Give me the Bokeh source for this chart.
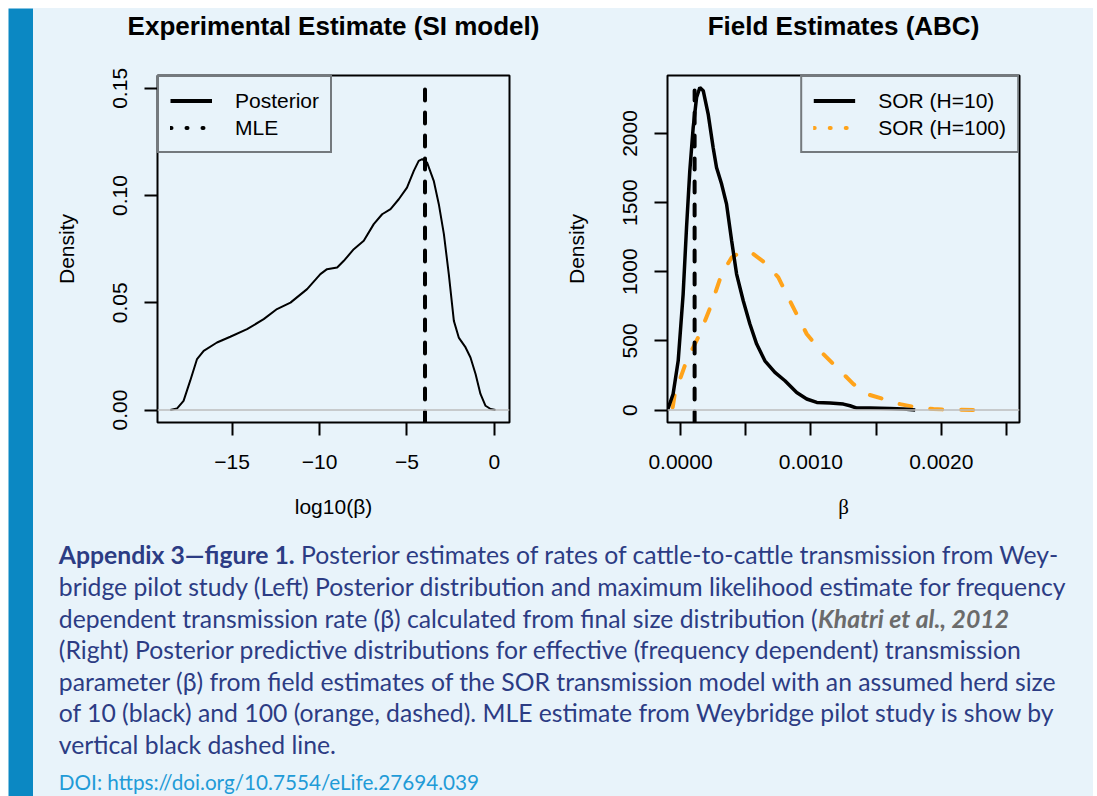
import glob
from bokeh.plotting import figure
from bokeh.models import Range1d, FixedTicker, Legend, LegendItem, Span, Title, Spacer
from bokeh.layouts import row, column
from bokeh.embed import file_html
from bokeh.resources import INLINE
from bokeh.core.properties import value

# ---------------- data ----------------
post_x = [-18.53, -18.15, -17.77, -17.39, -17.0, -16.62, -15.86, -15.1, -14.14, -13.19,
          -12.43, -11.66, -10.71, -9.95, -9.57, -8.99, -8.61, -8.04, -7.47, -6.9,
          -6.42, -5.94, -5.47, -5.0, -4.61, -4.33, -4.13, -3.85, -3.47, -3.18,
          -2.89, -2.61, -2.32, -2.04, -1.65, -1.37, -1.08, -0.8, -0.51, -0.22, 0.06]
post_y = [0.0, 0.0007, 0.0043, 0.0137, 0.0238, 0.0276, 0.0315, 0.0342, 0.0377, 0.0424,
          0.0471, 0.0501, 0.0564, 0.0634, 0.0657, 0.0665, 0.0696, 0.075, 0.0789, 0.0867,
          0.0913, 0.0937, 0.0983, 0.1037, 0.1115, 0.1162, 0.117, 0.1154, 0.1069, 0.096,
          0.082, 0.0634, 0.0416, 0.0338, 0.0292, 0.0245, 0.0168, 0.0075, 0.002, 0.0005, 0.0]

h10_x = [-0.0001, -0.000057, -0.000018, 0.00002, 0.000046, 0.000071, 0.000097, 0.000123,
         0.000148, 0.000174, 0.000212, 0.00025, 0.000276, 0.000315, 0.000353, 0.000392,
         0.00043, 0.000481, 0.000532, 0.000584, 0.000647, 0.000724, 0.000801, 0.000891,
         0.000968, 0.001045, 0.001147, 0.001249, 0.0013, 0.001352, 0.001454, 0.001607,
         0.00171, 0.0018]
h10_y = [0, 116, 356, 839, 1320, 1730, 2043, 2260, 2332, 2309, 2140, 1899, 1754, 1634,
         1489, 1224, 983, 790, 622, 477, 356, 272, 212, 127, 80, 55, 51, 43, 31, 14, 14,
         12, 8, 0]

h100_x = [-0.00006, -0.000044, 0.000046, 0.000148, 0.000238, 0.000315, 0.000392, 0.000481,
          0.000558, 0.00066, 0.00075, 0.000839, 0.000968, 0.001095, 0.001224, 0.001326,
          0.001428, 0.001556, 0.001684, 0.001812, 0.00194, 0.002068, 0.002247]
h100_y = [20, 116, 356, 550, 766, 983, 1103, 1152, 1128, 1056, 959, 790, 550, 405, 284,
          188, 116, 80, 43, 19, 7, 3, 0]

mle_log10 = -3.97
mle_beta = 0.000108
mle_top_left = 0.15
mle_top_right = 2310

left_xticks = [-15, -10, -5, 0]
left_xlabels = ["\u221215", "\u221210", "\u22125", "0"]
left_yticks = [0, 0.05, 0.1, 0.15]
left_ylabels = ["0.00", "0.05", "0.10", "0.15"]
right_xticks = [0, 0.0005, 0.001, 0.0015, 0.002, 0.0025]
right_xlabels = ["0.0000", "", "0.0010", "", "0.0020", ""]
right_yticks = [0, 500, 1000, 1500, 2000]
right_ylabels = ["0", "500", "1000", "1500", "2000"]

caption_lines = [
    [("Appendix 3\u2014figure 1.", "bold"), (" Posterior estimates of rates of cattle-to-cattle transmission from Wey-", "reg")],
    [("bridge pilot study (Left) Posterior distribution and maximum likelihood estimate for frequency", "reg")],
    [("dependent transmission rate (\u03b2) calculated from final size distribution (", "reg"), ("Khatri et al., 2012", "cite")],
    [("(Right) Posterior predictive distributions for effective (frequency dependent) transmission", "reg")],
    [("parameter (\u03b2) from field estimates of the SOR transmission model with an assumed herd size", "reg")],
    [("of 10 (black) and 100 (orange, dashed). MLE estimate from Weybridge pilot study is show by", "reg")],
    [("vertical black dashed line.", "reg")],
]
doi_text = "DOI: https://doi.org/10.7554/eLife.27694.039"

# ---------------- style ----------------
BG = "#e8f3fa"
BAR = "#0b88c3"
NAVY = "#2c3c84"
GREY = "#6b6b6b"
DOI_C = "#1f9bd7"
FONT = "Liberation Sans"
CAP_FONT = "Lato"
NAN = float("nan")


def base_fig(width, xr, yr, mbl, mbr, title):
    p = figure(width=width, height=522, x_range=xr, y_range=yr,
               output_backend="svg", toolbar_location=None,
               min_border_left=mbl, min_border_right=mbr,
               min_border_top=67, min_border_bottom=108,
               background_fill_color=BG, border_fill_color=BG,
               outline_line_color="black", outline_line_width=2)
    p.title.text = title
    p.title.align = "center"
    p.title.text_font = FONT
    p.title.text_font_size = "26px"
    p.title.text_font_style = "bold"
    p.title.text_color = "black"
    p.title.standoff = 0
    # invisible spacer title that lifts the real title away from the frame
    p.add_layout(Title(text=" ", text_font_size="30px", standoff=0), "above")
    p.xgrid.visible = False
    p.ygrid.visible = False
    for ax in (p.xaxis[0], p.yaxis[0]):
        ax.axis_line_color = None
        ax.major_tick_out = 13
        ax.major_tick_in = 0
        ax.major_tick_line_width = 2
        ax.major_tick_line_color = "black"
        ax.minor_tick_line_color = None
        ax.major_label_text_font = FONT
        ax.major_label_text_font_size = "21px"
        ax.major_label_text_color = "black"
        ax.axis_label_text_font = FONT
        ax.axis_label_text_font_size = "21px"
        ax.axis_label_text_font_style = "normal"
        ax.axis_label_text_color = "black"
    p.xaxis[0].major_label_standoff = 19
    p.yaxis[0].major_label_standoff = 17
    p.yaxis[0].major_label_orientation = "vertical"
    p.xaxis[0].axis_label_standoff = 23
    p.yaxis[0].axis_label_standoff = 33
    p.yaxis[0].axis_label = "Density"
    p.add_layout(Span(location=0, dimension="width", line_color="#bdbdbd", line_width=1.5))
    return p


def make_legend(p, items, loc):
    leg = Legend(items=items, location=loc, margin=0, padding=11, spacing=2,
                 glyph_width=42, glyph_height=25, label_height=25, label_standoff=23,
                 label_text_font=FONT, label_text_font_size="21px", label_text_color="black",
                 border_line_color="black", border_line_width=2,
                 background_fill_color=BG, background_fill_alpha=1.0)
    p.add_layout(leg)


# ---------------- left panel ----------------
pL = base_fig(507, Range1d(-19.26, 0.86), Range1d(-0.0058, 0.156), 124, 31,
              "Experimental Estimate (SI model)")
pL.xaxis[0].ticker = FixedTicker(ticks=left_xticks)
pL.xaxis[0].major_label_overrides = dict(zip(left_xticks, left_xlabels))
pL.yaxis[0].ticker = FixedTicker(ticks=left_yticks)
pL.yaxis[0].major_label_overrides = dict(zip(left_yticks, left_ylabels))
pL.xaxis[0].axis_label = "log10(\u03b2)"

pL.line(post_x, post_y, line_color="black", line_width=2)
pL.line([mle_log10, mle_log10], [pL.y_range.start, mle_top_left], line_color="black",
        line_width=4, line_dash="11 12", line_cap="round")
lp = pL.line([NAN], [NAN], line_color="black", line_width=4)
lm = pL.line([NAN], [NAN], line_color="black", line_width=4, line_dash="1 15", line_cap="round")
make_legend(pL, [LegendItem(label="Posterior", renderers=[lp]),
                 LegendItem(label="MLE", renderers=[lm])], "top_left")

# ---------------- right panel ----------------
pR = base_fig(553, Range1d(-0.0001, 0.0026), Range1d(-90, 2419), 127, 74,
              "Field Estimates (ABC)")
pR.xaxis[0].ticker = FixedTicker(ticks=right_xticks)
pR.xaxis[0].major_label_overrides = dict(zip(right_xticks, right_xlabels))
pR.yaxis[0].ticker = FixedTicker(ticks=right_yticks)
pR.yaxis[0].major_label_overrides = dict(zip(right_yticks, right_ylabels))
pR.xaxis[0].axis_label = "\u03b2"
pR.xaxis[0].axis_label_text_font = "Liberation Serif"

pR.line(h100_x, h100_y, line_color="#ffa31a", line_width=4, line_dash="12 19", line_cap="round")
pR.line(h10_x, h10_y, line_color="black", line_width=3.5)
pR.line([mle_beta, mle_beta], [pR.y_range.start, mle_top_right], line_color="black",
        line_width=4, line_dash="11 12", line_cap="round")
r10 = pR.line([NAN], [NAN], line_color="black", line_width=4)
r100 = pR.line([NAN], [NAN], line_color="#ffa31a", line_width=4, line_dash="1 15", line_cap="round")
make_legend(pR, [LegendItem(label="SOR (H=10)", renderers=[r10]),
                 LegendItem(label="SOR (H=100)", renderers=[r100])], "top_right")

# ---------------- caption ----------------
def find_font(name):
    for root in ("/usr/share/fonts", "/usr/local/share/fonts"):
        r = glob.glob(root + "/**/" + name, recursive=True)
        if r:
            return r[0]
    return None

try:
    from PIL import ImageFont
    f_reg = ImageFont.truetype(find_font("Lato-Regular.ttf"), 100)
    f_bold = ImageFont.truetype(find_font("Lato-Bold.ttf"), 100)
    f_cite = ImageFont.truetype(find_font("Lato-BoldItalic.ttf") or find_font("Lato-Bold.ttf"), 100)
    fonts = {"reg": f_reg, "bold": f_bold, "cite": f_cite}

    def width100(s, kind):
        return fonts[kind].getlength(s)
except Exception:
    def width100(s, kind):
        return len(s) * (47 if kind == "reg" else 51)

SIZE_FIX = 1.003
cap_x0 = 25.3          # caption left edge inside the caption figure
fig_left = 33.0        # caption figure left edge on the page
line_right = {1: 1064.5, 3: 1012.3, 4: 1052.0, 5: 1054.0}
ratios = []
for i, target in line_right.items():
    w = sum(width100(t, k) for t, k in caption_lines[i])
    ratios.append((target - fig_left - cap_x0) / w * 100)
cap_size = sum(ratios) / len(ratios) * SIZE_FIX
cap_size = max(18.0, min(25.0, cap_size))
doi_right = 477.6
doi_size = (doi_right - fig_left - cap_x0) / width100(doi_text, "reg") * 100 * SIZE_FIX
doi_size = max(16.0, min(cap_size, doi_size))

BASE_FIX = -9.0
first_base = 33.3 + BASE_FIX
line_gap = 31.63
doi_base = 260.0 + BASE_FIX

pc = figure(width=1060, height=266, x_range=Range1d(0, 1060), y_range=Range1d(266, 0),
            output_backend="svg", toolbar_location=None, min_border=0,
            x_axis_location=None, y_axis_location=None,
            background_fill_color=BG, border_fill_color=BG, outline_line_color=None)
pc.grid.visible = False

styles = {"reg": (NAVY, "normal"), "bold": (NAVY, "bold"), "cite": (GREY, "bold italic")}
for i, segs in enumerate(caption_lines):
    x = cap_x0
    yb = first_base + i * line_gap
    for t, k in segs:
        col, fs = styles[k]
        lead = len(t) - len(t.lstrip(" "))
        if lead:
            x += width100(" " * lead, "reg") * cap_size / 100.0
            t = t.lstrip(" ")
        pc.text(x=[x], y=[yb], text=[t], text_font=value(CAP_FONT),
                text_font_size=value("%.2fpx" % cap_size), text_font_style=fs,
                text_color=col, text_baseline="alphabetic", text_align="left")
        x += width100(t, k) * cap_size / 100.0
pc.text(x=[cap_x0], y=[doi_base], text=[doi_text], text_font=value(CAP_FONT),
        text_font_size=value("%.2fpx" % doi_size), text_color=DOI_C,
        text_baseline="alphabetic", text_align="left")

bar = figure(width=25, height=788, output_backend="svg", toolbar_location=None,
             min_border=0, x_axis_location=None, y_axis_location=None,
             background_fill_color=BAR, border_fill_color=BAR, outline_line_color=None)
bar.grid.visible = False

content = column(row(pL, pR, styles={"background-color": BG}), pc,
                 styles={"background-color": BG})
page = column(Spacer(width=8, height=8),
              row(Spacer(width=8, height=788), bar, content))
open("out.html", "w").write(file_html(page, INLINE))
